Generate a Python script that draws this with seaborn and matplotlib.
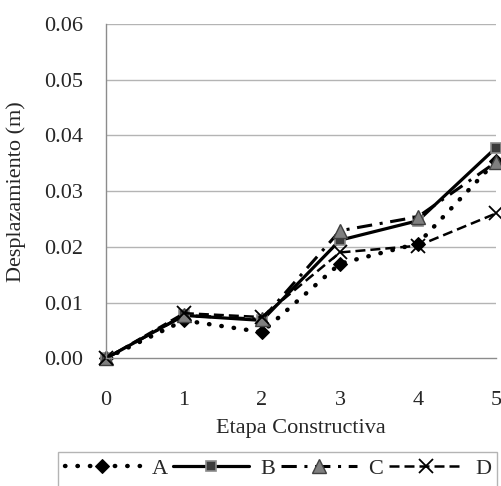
import numpy as np
import pandas as pd
import matplotlib
matplotlib.use('Agg')
import matplotlib.pyplot as plt
import seaborn as sns
from matplotlib.patches import Rectangle

etapas = [0, 1, 2, 3, 4, 5]
serie_a = [0.0, 0.0068, 0.0047, 0.0170, 0.0206, 0.0354]
serie_b = [0.0, 0.0077, 0.0068, 0.0212, 0.0247, 0.0378]
serie_c = [0.0, 0.0077, 0.0070, 0.0229, 0.0254, 0.0352]
serie_d = [0.0, 0.0081, 0.0074, 0.0190, 0.0202, 0.0260]
y_ticks = [0.00, 0.01, 0.02, 0.03, 0.04, 0.05, 0.06]

sns.set_style('white')
plt.rcParams['font.family'] = ['Liberation Serif', 'DejaVu Serif']
fs = 16

fig = plt.figure(figsize=(5.02, 4.86), dpi=100)
ax = fig.add_axes([106/502, 1-358.3/486, 390/502, (358.3-24)/486])

for v in y_ticks[1:]:
    ax.axhline(v, color='#b4b4b4', lw=1.0, zorder=0)

sns.lineplot(x=etapas, y=serie_a, ax=ax, color='black', lw=3.2,
             linestyle=(0, (0.1, 2.7)), dash_capstyle='round',
             marker='D', markersize=7, markerfacecolor='black',
             markeredgecolor='black', label='A', clip_on=False)
sns.lineplot(x=etapas, y=serie_b, ax=ax, color='black', lw=2.3,
             linestyle='-', marker='s', markersize=7,
             markerfacecolor='#3c3c3c', markeredgecolor='#8c8c8c',
             markeredgewidth=1.2, label='B', clip_on=False)
sns.lineplot(x=etapas, y=serie_c, ax=ax, color='black', lw=2.2,
             linestyle=(0, (5, 2.5, 1, 2.5)), marker='^', markersize=10,
             markerfacecolor='#7f7f7f', markeredgecolor='#404040',
             markeredgewidth=1.0, label='C', clip_on=False)
sns.lineplot(x=etapas, y=serie_d, ax=ax, color='black', lw=1.8,
             linestyle=(0, (4, 2)), marker='x', markersize=10,
             markeredgewidth=1.3, markeredgecolor='black', label='D',
             clip_on=False)

ax.set_xlim(0, 5)
ax.set_ylim(0, 0.06)
ax.set_xticks(etapas)
ax.set_yticks(y_ticks)
ax.set_yticklabels([f'{v:.2f}' for v in y_ticks])
ax.tick_params(axis='both', direction='out', length=5.5, width=1,
               color='#8c8c8c', labelsize=fs)
ax.tick_params(axis='y', pad=11)
ax.tick_params(axis='x', pad=18)
for s in ['top', 'right']:
    ax.spines[s].set_visible(False)
for s in ['left', 'bottom']:
    ax.spines[s].set_color('#8c8c8c')
    ax.spines[s].set_linewidth(1.0)

ax.set_xlabel('Etapa Constructiva', fontsize=fs)
ax.set_ylabel('Desplazamiento (m)', fontsize=fs)
ax.xaxis.set_label_coords(0.5, -(419-358.3)/334.3)
ax.yaxis.set_label_coords((26-106)/390, 0.5)

handles, labels = ax.get_legend_handles_labels()
ax.get_legend().remove()
leg = fig.legend(handles, labels, ncol=4, loc='upper left',
                 bbox_to_anchor=(58/502, (486-452)/486, 440/502, 0),
                 mode='expand', frameon=False,
                 handlelength=3.4, handletextpad=0.5,
                 borderaxespad=0, borderpad=0.3, fontsize=fs,
                 columnspacing=1.0)
# legend box runs past the bottom edge, as in the original
fig.patches.append(Rectangle((58/502, -0.02), 439/502, (486-452)/486+0.02,
                             transform=fig.transFigure, fill=False,
                             edgecolor='#b4b4b4', lw=1.0))

fig.savefig('out.png', dpi=100)
